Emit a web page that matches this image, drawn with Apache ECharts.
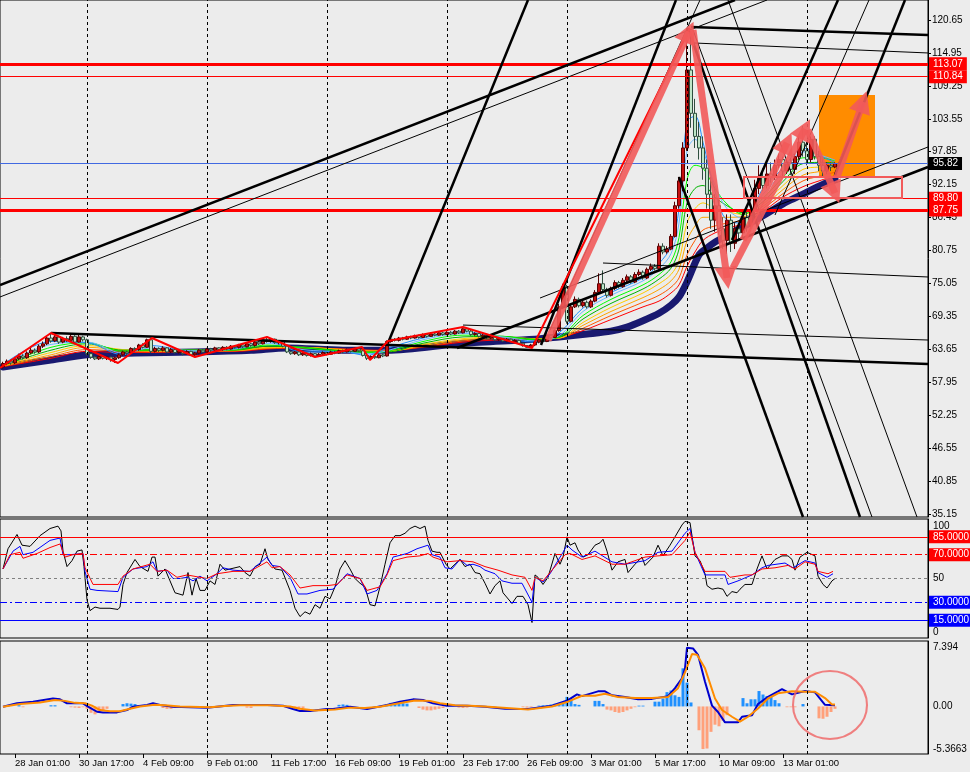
<!DOCTYPE html>
<html><head><meta charset="utf-8">
<script src="https://cdn.jsdelivr.net/npm/echarts@6/dist/echarts.min.js"></script>
<style>html,body{margin:0;padding:0;background:#ececec;}#c{width:970px;height:772px;}</style>
</head><body><div id="c"></div>
<script>
// ---------- axis / tick data ----------
const X_LABEL_K = [3,19,35,51,67,83,99,115,131,147,163,179,195];
const X_LABELS = ['28 Jan 01:00','30 Jan 17:00','4 Feb 09:00','9 Feb 01:00','11 Feb 17:00','16 Feb 09:00','19 Feb 01:00','23 Feb 17:00','26 Feb 09:00','3 Mar 01:00','5 Mar 17:00','10 Mar 09:00','13 Mar 01:00'];
const GRID_K = [21,51,81,111,141,171,201];
const PRICE_TICKS = [120.65,114.95,109.25,103.55,97.85,92.15,86.45,80.75,75.05,69.35,63.65,57.95,52.25,46.55,40.85,35.15];
const RSI_TICKS = [100,50,0];
const MACD_TICKS = [7.394,0,-5.3663];
const MACD_TICK_LABELS = ['7.394','0.00','-5.3663'];
const PRICE_LEVELS = [113.07,110.84,89.80,87.75];
const BID = 95.82;
const RSI_LEVELS = [85,70,50,30,15];
const RSI_LEVEL_LABELS = ['85.0000','70.0000','','30.0000','15.0000'];

// ---------- candles: [open, close, low, high], one per H4 bar ----------
const CANDLES = [
[60.6,61.2,60.3,61.5],[61.2,61.6,60.9,61.9],[61.6,61.3,61.0,61.9],[61.3,62.0,61.1,62.3],[62.0,62.5,61.8,62.9],
[62.5,62.2,61.9,62.8],[62.2,63.0,62.0,63.3],[63.0,63.5,62.8,63.9],[63.5,63.2,62.9,63.8],[63.2,64.2,63.0,64.5],
[64.2,64.6,63.9,65.0],[64.6,65.6,64.4,65.9],[65.6,65.1,64.8,66.5],[65.1,65.8,64.9,66.2],[65.8,64.9,64.6,66.0],
[64.9,65.5,64.7,65.8],[65.5,65.2,64.9,65.9],[65.2,65.9,65.0,66.3],[65.9,64.9,64.7,66.1],[64.9,65.8,64.8,66.2],
[65.8,65.3,65.0,66.0],[65.3,62.9,62.6,65.5],[62.9,62.3,62.0,63.1],[62.3,62.0,61.8,62.5],[62.0,62.4,61.8,62.6],
[62.4,62.1,61.9,62.6],[62.1,62.3,61.8,62.5],[62.3,61.9,61.5,62.4],[61.9,62.2,61.3,62.4],[62.2,62.7,62.0,62.9],
[62.7,63.2,62.5,63.4],[63.2,63.0,62.7,63.4],[63.0,63.8,62.9,64.0],[63.8,63.6,63.3,64.0],[63.6,64.4,63.4,64.6],
[64.4,64.0,63.8,64.7],[64.0,65.3,63.9,65.5],[65.3,63.3,63.0,65.6],[63.3,63.8,63.1,64.1],[63.8,63.5,63.2,64.0],
[63.5,63.9,63.3,64.2],[63.9,63.2,63.0,64.0],[63.2,63.6,63.0,63.9],[63.6,63.1,62.9,63.8],[63.1,63.4,62.9,63.7],
[63.4,62.9,62.6,63.5],[62.9,63.3,62.7,63.5],[63.3,62.7,62.5,63.4],[62.7,63.0,62.3,63.2],[63.0,63.5,62.8,63.7],
[63.5,63.2,63.0,63.7],[63.2,63.7,63.0,63.9],[63.7,63.5,63.2,63.9],[63.5,63.9,63.3,64.1],[63.9,63.6,63.4,64.0],
[63.6,64.0,63.4,64.2],[64.0,63.7,63.5,64.2],[63.7,64.2,63.6,64.4],[64.2,64.0,63.8,64.4],[64.0,64.4,63.8,64.6],
[64.4,64.1,63.9,64.6],[64.1,64.6,64.0,64.8],[64.6,64.3,64.1,64.8],[64.3,64.9,64.1,65.1],[64.9,64.6,64.4,65.1],
[64.6,65.3,64.5,65.5],[65.3,65.0,64.8,65.8],[65.0,65.4,64.8,65.6],[65.4,64.8,64.6,65.5],[64.8,65.0,64.5,65.2],
[65.0,64.2,64.0,65.1],[64.2,63.2,63.0,64.3],[63.2,62.9,62.7,63.4],[62.9,63.2,62.7,63.4],[63.2,62.7,62.5,63.3],
[62.7,63.0,62.5,63.2],[63.0,62.6,62.4,63.1],[62.6,62.9,62.4,63.1],[62.9,62.5,62.3,63.0],[62.5,62.8,62.4,63.0],
[62.8,63.1,62.6,63.3],[63.1,62.8,62.6,63.2],[62.8,63.2,62.7,63.4],[63.2,63.0,62.8,63.4],[63.0,63.4,62.9,63.6],
[63.4,63.2,63.0,63.6],[63.2,63.6,63.1,63.8],[63.6,63.3,63.1,63.8],[63.3,63.7,63.2,64.0],[63.7,63.4,63.2,64.0],
[63.4,62.6,62.4,63.5],[62.6,62.1,61.8,62.7],[62.1,62.4,61.9,62.6],[62.4,62.2,62.0,62.6],[62.2,62.7,62.1,62.9],
[62.7,62.5,62.3,62.9],[62.5,65.0,62.4,65.2],[65.0,65.4,64.8,65.6],[65.4,65.2,65.0,65.6],[65.2,65.6,65.0,65.8],
[65.6,65.4,65.2,65.8],[65.4,65.8,65.3,66.0],[65.8,65.6,65.4,66.0],[65.6,66.0,65.5,66.2],[66.0,65.7,65.5,66.2],
[65.7,66.2,65.6,66.4],[66.2,65.9,65.7,66.4],[65.9,66.3,65.8,66.5],[66.3,66.1,65.9,66.5],[66.1,66.5,66.0,66.7],
[66.5,66.2,66.0,66.7],[66.2,66.6,66.1,66.8],[66.6,66.3,66.1,66.8],[66.3,66.8,66.2,67.0],[66.8,66.5,66.3,67.0],
[66.5,67.2,66.4,67.5],[67.2,66.8,66.6,67.4],[66.8,66.2,66.0,67.0],[66.2,66.4,66.0,66.6],[66.4,65.9,65.7,66.5],
[65.9,66.1,65.7,66.3],[66.1,65.6,65.4,66.2],[65.6,65.8,65.4,66.0],[65.8,65.3,65.1,65.9],[65.3,65.5,65.1,65.7],
[65.5,65.1,64.9,65.6],[65.1,65.4,64.9,65.6],[65.4,65.0,64.8,65.5],[65.0,65.2,64.8,65.4],[65.2,64.7,64.5,65.3],
[64.7,64.3,64.1,64.8],[64.3,64.0,63.9,64.4],[64.0,64.4,63.9,64.6],[64.4,64.9,64.2,65.1],[64.9,65.3,64.7,65.5],
[65.3,65.0,64.8,65.5],[65.0,66.0,64.9,66.2],[66.0,65.7,65.5,66.3],[65.7,66.9,65.6,67.1],[66.9,71.0,66.7,71.5],
[71.0,74.5,70.6,75.0],[74.5,68.5,68.1,74.8],[68.5,71.0,68.3,71.4],[71.0,72.3,70.8,72.8],[72.3,71.2,70.9,72.6],
[71.2,71.8,70.9,72.2],[71.8,71.0,70.7,72.1],[71.0,72.0,70.8,72.3],[72.0,73.5,71.8,73.9],[73.5,75.0,73.2,76.8],
[75.0,74.0,73.6,77.3],[74.0,73.0,72.6,74.3],[73.0,74.2,72.8,74.5],[74.2,75.2,73.9,75.6],[75.2,74.5,74.2,75.5],
[74.5,75.6,74.3,76.0],[75.6,76.2,75.3,76.6],[76.2,75.3,75.0,76.5],[75.3,76.6,75.1,77.0],[76.6,77.0,76.3,77.5],
[77.0,76.0,75.7,77.3],[76.0,77.5,75.8,77.8],[77.5,78.0,77.2,78.5],[78.0,77.6,77.3,78.4],[77.6,81.5,77.4,82.0],
[81.5,80.5,80.1,82.0],[80.5,81.0,80.2,81.5],[81.0,83.2,80.8,83.6],[83.2,88.5,83.0,89.2],[88.5,92.8,88.0,93.5],
[92.8,98.5,91.0,99.5],[98.5,112.0,98.0,119.3],[112.0,104.5,102.0,118.6],[104.5,100.5,98.5,107.0],[100.5,98.5,96.5,103.0],
[98.5,95.0,93.0,100.5],[95.0,90.5,88.0,96.5],[90.5,86.0,84.5,93.5],[86.0,88.5,84.0,90.5],[88.5,84.5,83.5,89.5],
[84.5,82.5,81.0,86.5],[82.5,86.0,80.2,87.0],[86.0,82.0,80.5,87.0],[82.0,84.5,81.0,85.5],[84.5,83.8,82.5,85.0],
[83.8,86.5,83.0,87.5],[86.5,85.0,84.0,88.5],[85.0,87.5,84.5,88.0],[87.5,91.5,86.5,93.0],[91.5,93.5,90.5,95.5],
[93.5,92.0,91.0,95.0],[92.0,94.0,91.5,95.8],[94.0,93.5,92.5,96.0],[93.5,95.5,93.0,96.5],[95.5,96.5,95.0,97.5],
[96.5,94.5,93.5,97.0],[94.5,96.0,94.0,96.5],[96.0,94.8,93.8,96.8],[94.8,97.0,94.0,97.5],[97.0,99.5,96.5,100.5],
[99.5,98.0,97.0,102.3],[98.0,96.5,95.5,99.5],[96.5,100.0,96.0,100.5],[100.0,97.0,96.5,100.5],[97.0,95.5,94.5,98.0],
[95.5,94.5,93.5,96.5],[94.5,95.5,94.0,96.0],[95.5,95.2,94.5,96.0],[95.2,95.82,95.0,96.0]
];

// ---------- moving-average ribbon (bar index keyframes) ----------
const RIB_K = [0,12,21,30,37,48,58,66,75,85,91,96,105,115,125,133,139,145,152,160,164,167,169,171,173,175,178,181,185,190,195,200,204,208];
const RIB_B1 = [61.0,65.0,64.8,62.7,64.3,63.2,63.9,65.0,63.2,63.2,62.6,63.8,65.6,66.7,65.6,64.9,66.5,70.8,73.5,76.0,78.5,81.5,88.0,103.0,104.0,99.5,91.0,86.0,85.5,91.5,95.0,98.5,97.2,96.0];
const RIB_B2 = [60.95,64.5,64.9,63.0,63.9,63.4,63.7,64.7,63.6,63.2,62.9,63.4,65.3,66.4,65.8,65.1,66.0,70.2,73.0,75.5,77.6,80.2,85.5,98.0,100.0,98.0,92.0,88.0,86.3,90.5,94.2,97.8,97.3,96.4];
const RIB_G1 = [60.9,64.0,64.8,63.3,63.6,63.5,63.6,64.4,63.9,63.3,63.1,63.3,65.0,66.1,65.9,65.3,65.8,69.5,72.3,74.8,76.6,78.8,83.0,93.0,95.5,95.0,91.5,88.8,87.0,89.8,93.4,96.8,96.8,96.3];
const RIB_G2 = [60.85,63.5,64.6,63.5,63.5,63.5,63.5,64.2,64.0,63.4,63.2,63.2,64.7,65.8,65.9,65.4,65.7,68.9,71.6,74.1,75.8,77.7,81.0,89.0,91.5,92.0,90.0,88.5,87.3,89.2,92.7,95.8,96.0,95.9];
const RIB_O1 = [60.8,63.1,64.3,63.6,63.4,63.5,63.5,64.0,64.0,63.5,63.3,63.3,64.5,65.5,65.8,65.5,65.6,68.3,70.9,73.4,75.0,76.6,79.0,85.5,88.0,89.0,88.0,87.5,87.0,88.8,92.0,94.8,95.2,95.4];
const RIB_O2 = [60.75,62.7,64.0,63.5,63.3,63.4,63.4,63.9,64.0,63.6,63.4,63.3,64.3,65.3,65.7,65.5,65.6,67.8,70.2,72.6,74.0,75.5,77.5,82.5,85.0,86.5,86.5,86.5,86.6,88.4,91.3,93.8,94.4,94.9];
const RIB_R1 = [60.7,62.4,63.6,63.3,63.2,63.3,63.4,63.8,63.9,63.7,63.5,63.4,64.1,65.1,65.5,65.5,65.6,67.3,69.5,71.8,73.0,74.4,76.0,80.0,82.5,84.3,85.0,85.5,86.0,88.0,90.6,92.8,93.6,94.3];
const RIB_R2 = [60.65,62.1,63.3,63.1,63.1,63.3,63.3,63.7,63.9,63.7,63.5,63.5,64.0,64.9,65.3,65.5,65.7,66.9,68.8,71.0,72.0,73.4,74.8,78.0,80.5,82.5,83.8,84.6,85.4,87.5,90.0,91.8,92.8,93.7];
const NAVY_K = [0,12,21,33,48,62,71,85,96,115,133,139,146,152,156,160,164,167,169,171,174,176,178,181,184,188,192,196,200,204,208];
const NAVY = [60.6,61.8,62.7,63.0,63.2,63.5,63.9,63.5,63.5,64.7,65.4,65.8,66.3,66.8,67.5,68.6,69.9,71.3,72.7,75.3,80.0,81.2,82.2,83.4,84.5,86.0,87.6,89.2,90.5,91.9,93.1];

// ---------- zigzag and drawn objects (bar index, price) ----------
const ZIGZAG = [[-0.75,60.42],[12,66.47],[21,63.71],[28.75,61.28],[37.25,65.61],[48,62.32],[66,65.78],[78,62.32],[89.75,64.05],[91.75,61.8],[96.25,65.09],[115,67.51],[132.25,63.88],[171.75,119.26]];
const TREND_THICK = [
 [[-0.75,74.78],[183,124.11]], [[172,119.44],[231.25,118.05]], [[96.25,64.74],[131.25,124.11]], [[134.5,64.40],[168.25,124.11]],
 [[169,93.47],[200,34.63]], [[171.25,119.26],[214.25,34.63]], [[182.25,82.57],[208.75,124.11]], [[208,93.82],[225.5,124.11]],
 [[113.5,63.88],[231.25,95.21]], [[12,66.47],[231.25,61.11]]
];
const TREND_THIN = [
 [[-0.75,72.71],[191,124.11]], [[172.75,116.67],[231.25,114.94]], [[136.75,66.96],[174.25,124.11]],
 [[172.5,118.92],[217.25,34.63]], [[181.25,124.11],[228.5,34.63]], [[193,86.90],[216.5,124.11]],
 [[134.25,72.53],[231.25,98.67]], [[150,78.59],[231.25,76.17]], [[115,67.85],[231.25,65.26]]
];
const ARROWS = [
 [[136.25,65.26],[171.5,118.6]], [[172.5,118.92],[181,75.99]], [[182.5,77.73],[200.5,101.8]],
 [[185,82.57],[196,99.4]], [[201.25,101.61],[208,90.70]], [[208.5,93.47],[215,106.5]]
];
const ORANGE_BOX = [204,107.67,218,93.47];
const PINK_BOX = [185.25,93.47,224.75,89.84];

// ---------- RSI-style oscillator lines [bar index, value] ----------
const RSI_BLACK = [[0,58],[1.25,75],[3.5,87],[4.75,78],[6.75,77],[9.25,86],[11.75,92],[13.75,94],[14.5,90],[15,73],[16,60],[17.25,65],[18.5,73],[19.75,74],[20.25,60],[21,32],[21.75,23],[23,26],[24.25,25],[26.75,25],[28.75,24],[29.25,26],[30,45],[31,55],[33,66],[34.25,60],[36.25,56],[37.25,68],[38,68],[38.75,52],[40.5,58],[41.75,48],[43,38],[45,36],[46.25,55],[47.25,36],[48.25,50],[49.25,40],[50.5,40],[51.75,48],[53,45],[54.25,62],[55.5,57],[56.75,58],[59.25,60],[60.5,55],[61.75,52],[63,60],[64.25,62],[65.5,75],[66.25,66],[68,58],[69.75,57],[71.75,40],[73,25],[74.25,18],[75.5,22],[76.75,20],[78,28],[79.25,25],[80.5,35],[81.75,33],[83,43],[84.25,58],[85.5,65],[86.75,58],[88,50],[89.25,46],[90.5,43],[91.75,28],[93,27],[94.25,43],[95.5,62],[96.75,80],[98,86],[99.25,86],[100.5,88],[101.75,92],[103,94],[104.25,92],[105.5,94],[106.25,82],[107.25,73],[108.5,72],[109.25,72],[110.75,62],[111.75,58],[113,62],[114.25,66],[115.5,60],[116.75,62],[118,55],[119.25,54],[120.5,46],[121.75,37],[123,44],[124.25,48],[125,38],[127.25,29],[128.5,35],[130,35],[131.25,28],[132.25,13],[133,53],[133.75,51],[135,45],[136.25,51],[138,71],[139.25,62],[140,68],[141,85],[141.75,78],[143,80],[143.75,74],[145,68],[146.25,70],[148,78],[149.25,80],[150,83],[151,73],[152.25,57],[153.75,64],[155.5,66],[156.25,55],[158,62],[159.75,68],[160.5,61],[162.5,68],[163.75,78],[165,69],[166.75,78],[168,85],[169.75,95],[170.5,98],[171.75,97],[173,69],[174.25,65],[175.5,54],[176,44],[177.25,41],[178.75,42],[180,41],[181,35],[182.25,39],[183.5,38],[184.25,41],[185.5,45],[187.25,45],[188.5,58],[189.75,69],[191,58],[193,66],[194.75,69],[196.25,69],[197.25,66],[198,57],[199.25,68],[201,72],[203,69],[203.75,52],[205,45],[206,42],[207.25,48],[208,50]];
const RSI_BLUE = [[0,58],[2.5,73],[4.25,77],[5,70],[7.5,72],[11.75,82],[14.25,84],[15,70],[16.75,70],[20,71],[20.5,56],[21.75,41],[23.5,40],[28.75,39],[30,51],[32.5,58],[36,60],[37.5,64],[38.5,56],[41,57],[42.5,50],[44.25,50],[46,51],[47.5,48],[49.25,52],[51,48],[53.5,54],[55,59],[57.5,57],[61.75,56],[66,68],[67.25,61],[69.25,60],[71.75,51],[73.75,37],[76,37],[79.25,40],[82.5,41],[86,54],[89.25,50],[91,37],[93.5,40],[96,54],[97.5,68],[101,71],[103.5,75],[106.25,78],[107.25,70],[109.25,68],[110.5,59],[112.25,58],[114.25,66],[116,61],[117.5,62],[119.25,60],[120.5,57],[123,54],[124.75,48],[127.25,46],[129.75,46],[132.25,30],[133,51],[135,47],[136.75,54],[140,72],[141,78],[142.25,74],[144.75,68],[148,73],[152.25,64],[155.5,62],[160.5,65],[163.75,72],[167.25,73],[170.5,88],[171.75,92],[173,72],[175.5,53],[180.5,53],[181.25,45],[183.75,48],[187.25,53],[189.75,59],[191.25,61],[195.5,63],[197.5,59],[200.5,65],[203,63],[203.75,55],[206,51],[207.5,54]];
const RSI_RED = [[0,58],[1.75,70],[4.25,72],[5,67],[8.5,71],[11.75,76],[14.25,79],[15.5,68],[17.5,70],[20,71],[20.5,59],[22.5,45],[28.75,45],[30,52],[32.5,58],[36.75,62],[38.5,56],[41,57],[43.5,51],[46,53],[49.25,51],[51,50],[53.5,54],[57.5,56],[61.75,56],[66,64],[67.25,59],[69.25,60],[71.75,53],[74.25,42],[77.5,44],[81,44],[83.5,45],[86,53],[89.25,50],[91,40],[94.25,43],[96,53],[97.5,65],[101,68],[104.25,69],[106.25,71],[107.5,68],[111,64],[114.25,65],[117.5,64],[120.5,60],[123.75,57],[127.25,53],[130.5,51],[132.25,40],[133,51],[135,48],[137.25,57],[140.5,70],[141.75,71],[144.75,66],[148,69],[152.25,62],[155.5,62],[160.5,68],[163.75,69],[167.25,70],[170.5,82],[171.75,89],[173,72],[175.5,56],[180.5,56],[181.75,51],[185.5,53],[187.25,53],[189.75,58],[193,59],[196.25,61],[198,58],[200.5,64],[203,62],[203.75,56],[206.25,54],[207.5,56]];

// ---------- MACD [bar index, value] ----------
const MACD_MAIN = [[0,-0.03],[3.5,0.39],[7.5,0.59],[12.5,1.0],[14.25,0.9],[16,0.39],[20,0.39],[21.25,-0.03],[23.5,-0.67],[25,-0.75],[28.5,-0.75],[31,-0.45],[32.5,-0.03],[36,0.18],[37.5,0.39],[39.25,0.18],[42.5,-0.03],[51,-0.16],[53.5,-0.03],[57.5,0.18],[66,0.18],[70,0.09],[72.5,-0.33],[74.25,-0.58],[76.75,-0.58],[81,-0.33],[82.5,-0.33],[86.75,-0.03],[91,-0.33],[96,0.18],[99.25,0.59],[102.5,0.89],[105,0.81],[107.5,0.39],[111,0.09],[116,0.09],[120.5,-0.03],[125.5,-0.3],[131.25,-0.33],[137.25,0.09],[141.25,0.8],[143.5,1.52],[144.75,1.3],[148.75,1.9],[150.5,1.9],[152.25,1.4],[155.5,1.2],[158.75,0.9],[162.25,0.95],[166.25,1.3],[168,2.3],[169.75,3.54],[170.5,4.79],[171,7.394],[172.5,7.3],[173.75,6.5],[175.5,3.1],[177.25,0.1],[178.75,-0.7],[180.5,-2.0],[183.75,-2.0],[184.75,-1.3],[187.25,-1.1],[188.75,0.3],[191.25,1.2],[193.75,1.9],[194.75,2.19],[197.25,1.52],[200.5,1.94],[203,1.77],[205.5,0.2],[208,0.15]];
const MACD_SIGNAL = [[0,-0.03],[4.25,0.3],[9.25,0.5],[13,0.8],[15.5,0.7],[18,0.45],[20.5,0.4],[22.25,0.1],[24.25,-0.45],[26.75,-0.6],[29.25,-0.6],[31.75,-0.3],[34.25,0],[38,0.2],[40.5,0.15],[44.25,0],[51.75,-0.1],[55.5,0.05],[59.25,0.15],[66.75,0.15],[71.75,0],[74.25,-0.3],[78,-0.5],[83,-0.4],[86.75,-0.15],[90.5,-0.2],[94.25,-0.05],[98,0.3],[103,0.75],[106.75,0.7],[109.25,0.4],[113,0.15],[116.75,0.1],[120.5,0.0],[131.25,-0.4],[137.25,0],[141.25,0.6],[144.75,1.35],[148,1.35],[150.5,1.6],[153.75,1.2],[158,1.05],[162.25,1.05],[166.25,1.2],[168.75,2.3],[170.5,4.3],[172.25,6.6],[173.5,6.5],[175.5,4.8],[178,1.0],[179.75,-0.45],[182.25,-1.3],[184.25,-1.9],[186.25,-1.3],[188.75,-0.25],[191.25,1.0],[193.75,1.65],[197.25,1.9],[200.5,1.85],[203,1.85],[205.5,1.05],[207.25,0.25],[208,0.25]];
const MACD_HIST = [[4,0.15],[5,-0.1],[12,0.15],[13,0.15],[17,-0.1],[18,-0.15],[19,-0.2],[20,-0.1],[21,-0.3],[22,-0.8],[23,-1.0],[24,-0.7],[25,-0.5],[26,-0.3],[30,0.3],[31,0.4],[32,0.35],[33,0.3],[40,-0.2],[41,-0.3],[42,-0.3],[43,-0.2],[61,-0.15],[62,-0.2],[72,-0.25],[73,-0.35],[74,-0.3],[75,-0.2],[84,0.2],[85,0.25],[86,0.2],[96,0.3],[97,0.45],[98,0.5],[99,0.5],[100,0.4],[101,0.35],[104,-0.2],[105,-0.4],[106,-0.5],[107,-0.5],[108,-0.4],[109,-0.3],[110,-0.2],[114,-0.15],[115,-0.2],[116,-0.15],[130,-0.1],[131,-0.15],[132,-0.1],[134,0.1],[135,0.15],[136,0.15],[137,0.25],[138,0.35],[139,0.45],[140,0.4],[141,1.2],[142,1.0],[143,0.3],[144,0.2],[148,0.7],[149,0.7],[150,0.3],[151,-0.4],[152,-0.5],[153,-0.7],[154,-0.8],[155,-0.7],[156,-0.5],[157,-0.3],[158,-0.1],[159,0.1],[160,0.1],[163,0.6],[164,0.6],[165,1.0],[166,1.8],[167,2.0],[168,1.4],[169,1.2],[170,4.8],[171,3.0],[172,0.5],[174,-3.0],[175,-5.3663],[176,-5.3],[177,-3.2],[178,-2.3],[179,-2.5],[180,-1.8],[181,-1.1],[185,1.05],[186,0.4],[187,0.9],[188,0.9],[189,1.94],[190,1.5],[191,1.3],[192,1.2],[193,0.8],[194,0.4],[196,-0.1],[197,-0.1],[198,-0.1],[200,0.3],[204,-1.5],[205,-1.55],[206,-1.3],[207,-0.7],[208,-0.3]];
const CIRCLE = [[206.75,0.18]];

// ---------- chart ----------
const FONT = '"Liberation Sans", Arial, sans-serif';
const chart = echarts.init(document.getElementById('c'));
const XMIN = -0.75, XMAX = 231.25;
const LEVEL_WIDTHS = [3,1,1,3];
const boxLabel = (txt, bg) => ({show:true, position:'end', distance:1, formatter:txt, backgroundColor:bg, color:'#fff',
  fontSize:10, fontFamily:FONT, padding:[2,4,1,4]});
const vLines = GRID_K.map(k => ({xAxis:k, lineStyle:{color:'#000', type:[3,3], width:1}, label:{show:false}}));

const mainMarks = vLines.concat(
  PRICE_LEVELS.map((p,i) => ({yAxis:p, lineStyle:{color:'#ff0000', type:'solid', width:LEVEL_WIDTHS[i]}, label:boxLabel(p.toFixed(2), '#ff0000')})),
  [{yAxis:BID, lineStyle:{color:'#4169e1', type:'solid', width:1}, label:boxLabel(BID.toFixed(2), '#000')}]
);
const rsiStyles = [
  {color:'#ff0000', type:'solid'}, {color:'#ff0000', type:[7,3,2,3]}, {color:'#808080', type:[3,3]},
  {color:'#0000ff', type:[7,3,2,3]}, {color:'#0000ff', type:'solid'}
];
const rsiBg = ['#ff0000','#ff0000','','#0000ff','#0000ff'];
const rsiMarks = vLines.concat(RSI_LEVELS.map((v,i) => ({yAxis:v, lineStyle:Object.assign({width:1}, rsiStyles[i]),
  label: RSI_LEVEL_LABELS[i] ? boxLabel(RSI_LEVEL_LABELS[i], rsiBg[i]) : {show:false}})));

const ribbons = [RIB_R2, RIB_R1, RIB_O2, RIB_O1, RIB_G2, RIB_G1, RIB_B2, RIB_B1];
const ribbonColors = ['#ff0000','#ff5a00','#ffa500','#ffcc00','#00b400','#00ff00','#6ab8ff','#1e90ff'];

const axisLbl = {color:'#000', fontSize:10, fontFamily:FONT};
const xAxes = [0,1,2].map(i => ({
  gridIndex:i, type:'value', min:XMIN, max:XMAX, position:'bottom',
  axisLine:{show:false, onZero:false}, splitLine:{show:false},
  axisTick: i===2 ? {show:true, customValues:X_LABEL_K, length:4, lineStyle:{color:'#000'}} : {show:false},
  axisLabel: i===2 ? {show:true, customValues:X_LABEL_K, formatter:v => X_LABELS[X_LABEL_K.indexOf(v)],
     align:'left', margin:4, color:'#000', fontSize:9.5, fontFamily:FONT} : {show:false}
}));
const yCommon = {type:'value', position:'right', splitLine:{show:false}, axisLine:{show:true, onZero:false, lineStyle:{color:'#000'}}};
const yAxes = [
  Object.assign({}, yCommon, {gridIndex:0, min:34.63, max:124.11,
    axisTick:{show:true, customValues:PRICE_TICKS, length:3, lineStyle:{color:'#000'}},
    axisLabel:Object.assign({customValues:PRICE_TICKS, formatter:v => v.toFixed(2), margin:4}, axisLbl)}),
  Object.assign({}, yCommon, {gridIndex:1, min:0, max:100,
    axisTick:{show:false},
    axisLabel:{customValues:RSI_TICKS, margin:5,
      formatter:v => v===RSI_TICKS[0] ? '{t|'+v+'}' : (v===RSI_TICKS[2] ? '{b|'+v+'}' : '{m|'+v+'}'),
      rich:{t:Object.assign({padding:[15,0,0,0]}, axisLbl), b:Object.assign({padding:[0,0,12,0]}, axisLbl), m:axisLbl}}}),
  Object.assign({}, yCommon, {gridIndex:2, min:-5.99, max:8.24,
    axisTick:{show:false},
    axisLabel:Object.assign({customValues:MACD_TICKS, margin:5, formatter:v => {
      let best = 0; MACD_TICKS.forEach((t,i) => { if (Math.abs(t-v) < Math.abs(MACD_TICKS[best]-v)) best = i; });
      return MACD_TICK_LABELS[best]; }}, axisLbl)})
];

const series = [];
// orange background rectangle
series.push({type:'custom', xAxisIndex:0, yAxisIndex:0, z:1, silent:true, clip:true,
  data:[ORANGE_BOX], encode:{x:[0,2], y:[1,3]},
  renderItem:(p, api) => { const a = api.coord([api.value(0), api.value(1)]), b = api.coord([api.value(2), api.value(3)]);
    return {type:'rect', shape:{x:a[0], y:a[1], width:b[0]-a[0], height:b[1]-a[1]}, style:{fill:'#ff8c00'}}; }});
// navy slow MA with level lines
series.push({type:'line', xAxisIndex:0, yAxisIndex:0, z:2, silent:true, symbol:'none', smooth:0.3,
  data:NAVY_K.map((k,i) => [k, NAVY[i]]), lineStyle:{color:'#191970', width:7, cap:'round', join:'round'},
  markLine:{silent:true, symbol:['none','none'], animation:false, label:{show:false}, data:mainMarks}});
ribbons.forEach((arr, j) => series.push({type:'line', xAxisIndex:0, yAxisIndex:0, z:3, silent:true, symbol:'none', smooth:0.35,
  data:RIB_K.map((k,i) => [k, arr[i]]), lineStyle:{color:ribbonColors[j], width:1}}));
// candles
series.push({type:'candlestick', xAxisIndex:0, yAxisIndex:0, z:4, silent:true, barWidth:3,
  data:CANDLES.map((c,i) => [i, c[0], c[1], c[2], c[3]]), encode:{x:0, y:[1,2,3,4]},
  itemStyle:{color:'#c41010', color0:'#bfe6c8', borderColor:'#5a0000', borderColor0:'#2f4f3f', borderWidth:1}});
// trend lines
series.push({type:'lines', coordinateSystem:'cartesian2d', xAxisIndex:0, yAxisIndex:0, z:5, silent:true, clip:true,
  data:TREND_THICK.map(c => ({coords:c})), lineStyle:{color:'#000', width:2.5, opacity:1}});
series.push({type:'lines', coordinateSystem:'cartesian2d', xAxisIndex:0, yAxisIndex:0, z:5, silent:true, clip:true,
  data:TREND_THIN.map(c => ({coords:c})), lineStyle:{color:'#000', width:1, opacity:1}});
// pink outline box
series.push({type:'custom', xAxisIndex:0, yAxisIndex:0, z:6, silent:true, clip:true,
  data:[PINK_BOX], encode:{x:[0,2], y:[1,3]},
  renderItem:(p, api) => { const a = api.coord([api.value(0), api.value(1)]), b = api.coord([api.value(2), api.value(3)]);
    return {type:'rect', shape:{x:a[0], y:a[1], width:b[0]-a[0], height:b[1]-a[1]}, style:{fill:'none', stroke:'#f25a5a', lineWidth:2}}; }});
// zigzag
series.push({type:'line', xAxisIndex:0, yAxisIndex:0, z:6, silent:true, symbol:'none', data:ZIGZAG,
  lineStyle:{color:'#ff0000', width:2}});
// arrows
series.push({type:'lines', coordinateSystem:'cartesian2d', xAxisIndex:0, yAxisIndex:0, z:7, silent:true,
  symbol:['none','triangle'], symbolSize:22, data:ARROWS.map(c => ({coords:c})),
  lineStyle:{color:'#f25a5a', width:7, opacity:0.9}});
// RSI pane
series.push({type:'line', xAxisIndex:1, yAxisIndex:1, z:3, silent:true, symbol:'none', data:RSI_BLACK,
  lineStyle:{color:'#000', width:1},
  markLine:{silent:true, symbol:['none','none'], animation:false, label:{show:false}, data:rsiMarks}});
series.push({type:'line', xAxisIndex:1, yAxisIndex:1, z:3, silent:true, symbol:'none', data:RSI_BLUE, lineStyle:{color:'#0000ff', width:1}});
series.push({type:'line', xAxisIndex:1, yAxisIndex:1, z:3, silent:true, symbol:'none', data:RSI_RED, lineStyle:{color:'#ff0000', width:1}});
// MACD pane
series.push({type:'bar', xAxisIndex:2, yAxisIndex:2, z:2, silent:true, barWidth:3, data:MACD_HIST,
  itemStyle:{color:p => p.value[1] >= 0 ? '#1e90ff' : '#ffa07a'},
  markLine:{silent:true, symbol:['none','none'], animation:false, label:{show:false}, data:vLines}});
series.push({type:'line', xAxisIndex:2, yAxisIndex:2, z:3, silent:true, symbol:'none', data:MACD_MAIN, lineStyle:{color:'#0000cd', width:2}});
series.push({type:'line', xAxisIndex:2, yAxisIndex:2, z:3, silent:true, symbol:'none', data:MACD_SIGNAL, lineStyle:{color:'#ff8c00', width:2}});
series.push({type:'scatter', xAxisIndex:2, yAxisIndex:2, z:5, silent:true, symbol:'circle', symbolSize:[74,68], data:CIRCLE,
  itemStyle:{color:'rgba(0,0,0,0)', borderColor:'#f06464', borderWidth:2}});

chart.setOption({
  animation:false,
  backgroundColor:'#ececec',
  grid:[
    {left:0, right:42, top:0, height:517, show:true, borderColor:'#000', borderWidth:1, backgroundColor:'transparent'},
    {left:0, right:42, top:519, height:119, show:true, borderColor:'#000', borderWidth:1, backgroundColor:'transparent'},
    {left:0, right:42, top:641, height:113, show:true, borderColor:'#000', borderWidth:1, backgroundColor:'transparent'}
  ],
  xAxis:xAxes, yAxis:yAxes, series:series
});
</script></body></html>
